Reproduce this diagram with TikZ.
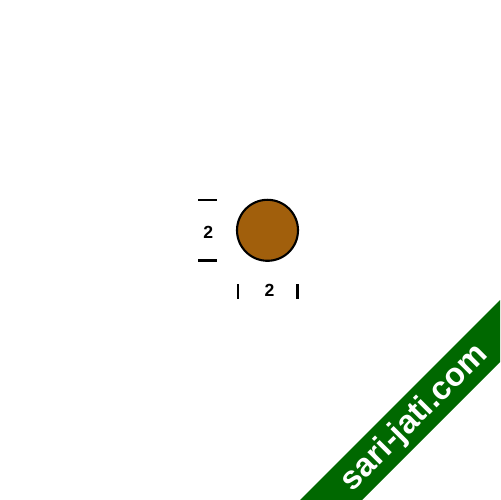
\documentclass[tikz,border=0pt]{standalone}
\usepackage{fontspec}
\setmainfont{Liberation Sans}
\definecolor{brownfill}{RGB}{161,95,12}
\definecolor{bandgreen}{RGB}{0,104,0}
\tikzset{
  bar/.style={line width=1.2pt, black},
  dimlabel/.style={font=\fontsize{10}{12}\selectfont\bfseries, inner sep=0pt},
  ball/.style={circle, draw=black, line width=1.2pt, fill=brownfill, minimum size=61*0.02cm, inner sep=0pt}
}
\begin{document}
\begin{tikzpicture}[x=0.02cm,y=-0.02cm]
\useasboundingbox (0,0) rectangle (500,500);
\node[ball] (c) at (267.5,230.3) {};
\draw[bar] (198,200) -- (217,200);
\draw[bar] (198,260.5) -- (217,260.5);
\node[dimlabel] (lv) at (208.3,232) {2};
\draw[bar] (238,284) -- (238,299);
\draw[bar] (297.5,284) -- (297.5,299);
\node[dimlabel] (lh) at (269.5,290.5) {2};
\fill[bandgreen] (300,500) -- (500,300) -- (500,362) -- (362,500) -- cycle;
\node[text=white, font=\fontsize{18.6}{22}\selectfont\bfseries, rotate=45, inner sep=0pt] (wm) at (415,418) {sari-jati.com};
\end{tikzpicture}
\end{document}
